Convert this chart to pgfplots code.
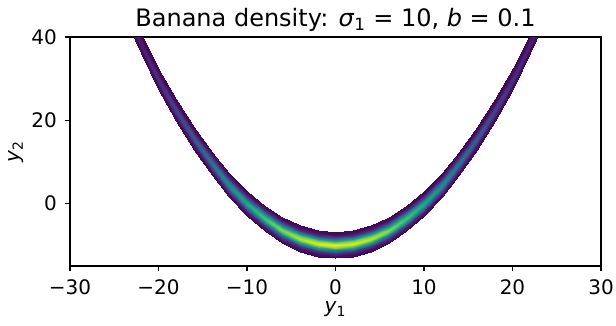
\documentclass[border=0pt]{standalone}
\usepackage{fontspec}
\setmainfont{DejaVu Sans}
\usepackage{pgfplots}
\pgfplotsset{compat=1.18}
\begin{document}
\fontsize{15}{18}\selectfont
\begin{tikzpicture}
\begin{axis}[name=ax, scale only axis, width=398.25pt, height=171.75pt,
 xmin=-30, xmax=30, ymin=-15, ymax=40,
 xtick={-30,-20,-10,0,10,20,30}, xticklabels={−30,−20,−10,0,10,20,30},
 ytick={0,20,40}, yticklabels={0,20,40},
 tick align=outside, tick pos=left, major tick length=3.75pt,
 major tick style={black, line width=0.9pt},
 axis line style={line width=0.9pt},
 xticklabel style={anchor=north, inner sep=0pt, yshift=-6.25pt},
 yticklabel style={anchor=east, inner sep=0pt, xshift=-6pt},
 colormap/viridis, point meta min=0, point meta max=1,
 title={Banana density: \textit{σ}\textsubscript{1} = 10, \textit{b} = 0.1},
 title style={font=\fontsize{18}{22}\selectfont, at={(axis description cs:0.5,1)}, anchor=base, yshift=2.25pt, inner sep=0pt},
 xlabel={\textit{y}\textsubscript{1}}, ylabel={\textit{y}\textsubscript{2}},
 xlabel style={at={(axis description cs:0.5,-0.203)}, anchor=base, inner sep=0pt},
 ylabel style={at={(axis description cs:-0.096,0.5)}, anchor=base, inner sep=0pt},
]
\addplot[surf, shader=interp, mesh/cols=11, mesh/rows=25, point meta=explicit] coordinates {
(-24,45.541)[.0067] (-24,45.953)[.0145] (-24,46.365)[.0262] (-24,46.776)[.0400] (-24,47.188)[.0516] (-24,47.6)[.056] (-24,48.012)[.0516] (-24,48.424)[.0400] (-24,48.835)[.0262] (-24,49.247)[.0145] (-24,49.659)[.0067]
(-22,36.128)[.0067] (-22,36.583)[.0171] (-22,37.037)[.0351] (-22,37.491)[.0589] (-22,37.946)[.080] (-22,38.4)[.089] (-22,38.854)[.080] (-22,39.309)[.0589] (-22,39.763)[.0351] (-22,40.217)[.0171] (-22,40.672)[.0067]
(-20,27.551)[.0067] (-20,28.040)[.0198] (-20,28.530)[.0460] (-20,29.020)[.0837] (-20,29.510)[.120] (-20,30)[.135] (-20,30.490)[.120] (-20,30.980)[.0837] (-20,31.470)[.0460] (-20,31.960)[.0198] (-20,32.449)[.0067]
(-18,19.8)[.0067] (-18,20.32)[.0227] (-18,20.84)[.0586] (-18,21.36)[.115] (-18,21.88)[.173] (-18,22.4)[.198] (-18,22.92)[.173] (-18,23.44)[.115] (-18,23.96)[.0586] (-18,24.48)[.0227] (-18,25.0)[.0067]
(-16,12.872)[.0067] (-16,13.418)[.0257] (-16,13.963)[.0729] (-16,14.509)[.153] (-16,15.054)[.240] (-16,15.6)[.278] (-16,16.146)[.240] (-16,16.691)[.153] (-16,17.237)[.0729] (-16,17.782)[.0257] (-16,18.328)[.0067]
(-14,6.764)[.0067] (-14,7.332)[.0287] (-14,7.899)[.0883] (-14,8.466)[.197] (-14,9.033)[.320] (-14,9.6)[.375] (-14,10.167)[.320] (-14,10.734)[.197] (-14,11.301)[.0883] (-14,11.868)[.0287] (-14,12.436)[.0067]
(-12,1.474)[.0067] (-12,2.059)[.0315] (-12,2.645)[.104] (-12,3.230)[.245] (-12,3.815)[.410] (-12,4.4)[.487] (-12,4.985)[.410] (-12,5.570)[.245] (-12,6.155)[.104] (-12,6.741)[.0315] (-12,7.326)[.0067]
(-10,-3)[.0067] (-10,-2.4)[.0340] (-10,-1.8)[.120] (-10,-1.2)[.295] (-10,-0.6)[.507] (-10,0)[.607] (-10,0.6)[.507] (-10,1.2)[.295] (-10,1.8)[.120] (-10,2.4)[.0340] (-10,3)[.0067]
(-8,-6.659)[.0067] (-8,-6.048)[.0363] (-8,-5.436)[.135] (-8,-4.824)[.343] (-8,-4.212)[.602] (-8,-3.6)[.726] (-8,-2.988)[.602] (-8,-2.376)[.343] (-8,-1.764)[.135] (-8,-1.152)[.0363] (-8,-0.541)[.0067]
(-6,-9.505)[.0067] (-6,-8.884)[.0382] (-6,-8.263)[.147] (-6,-7.642)[.386] (-6,-7.021)[.689] (-6,-6.4)[.835] (-6,-5.779)[.689] (-6,-5.158)[.386] (-6,-4.537)[.147] (-6,-3.916)[.0382] (-6,-3.295)[.0067]
(-4,-11.537)[.0067] (-4,-10.910)[.0396] (-4,-10.282)[.157] (-4,-9.655)[.420] (-4,-9.027)[.758] (-4,-8.4)[.923] (-4,-7.773)[.758] (-4,-7.145)[.420] (-4,-6.518)[.157] (-4,-5.890)[.0396] (-4,-5.263)[.0067]
(-2,-12.756)[.0067] (-2,-12.125)[.0405] (-2,-11.494)[.163] (-2,-10.862)[.442] (-2,-10.231)[.803] (-2,-9.6)[.980] (-2,-8.969)[.803] (-2,-8.338)[.442] (-2,-7.706)[.163] (-2,-7.075)[.0405] (-2,-6.444)[.0067]
(0,-13.162)[.0067] (0,-12.530)[.0408] (0,-11.897)[.165] (0,-11.265)[.449] (0,-10.632)[.819] (0,-10)[1] (0,-9.368)[.819] (0,-8.735)[.449] (0,-8.103)[.165] (0,-7.470)[.0408] (0,-6.838)[.0067]
(2,-12.756)[.0067] (2,-12.125)[.0405] (2,-11.494)[.163] (2,-10.862)[.442] (2,-10.231)[.803] (2,-9.6)[.980] (2,-8.969)[.803] (2,-8.338)[.442] (2,-7.706)[.163] (2,-7.075)[.0405] (2,-6.444)[.0067]
(4,-11.537)[.0067] (4,-10.910)[.0396] (4,-10.282)[.157] (4,-9.655)[.420] (4,-9.027)[.758] (4,-8.4)[.923] (4,-7.773)[.758] (4,-7.145)[.420] (4,-6.518)[.157] (4,-5.890)[.0396] (4,-5.263)[.0067]
(6,-9.505)[.0067] (6,-8.884)[.0382] (6,-8.263)[.147] (6,-7.642)[.386] (6,-7.021)[.689] (6,-6.4)[.835] (6,-5.779)[.689] (6,-5.158)[.386] (6,-4.537)[.147] (6,-3.916)[.0382] (6,-3.295)[.0067]
(8,-6.659)[.0067] (8,-6.048)[.0363] (8,-5.436)[.135] (8,-4.824)[.343] (8,-4.212)[.602] (8,-3.6)[.726] (8,-2.988)[.602] (8,-2.376)[.343] (8,-1.764)[.135] (8,-1.152)[.0363] (8,-0.541)[.0067]
(10,-3)[.0067] (10,-2.4)[.0340] (10,-1.8)[.120] (10,-1.2)[.295] (10,-0.6)[.507] (10,0)[.607] (10,0.6)[.507] (10,1.2)[.295] (10,1.8)[.120] (10,2.4)[.0340] (10,3)[.0067]
(12,1.474)[.0067] (12,2.059)[.0315] (12,2.645)[.104] (12,3.230)[.245] (12,3.815)[.410] (12,4.4)[.487] (12,4.985)[.410] (12,5.570)[.245] (12,6.155)[.104] (12,6.741)[.0315] (12,7.326)[.0067]
(14,6.764)[.0067] (14,7.332)[.0287] (14,7.899)[.0883] (14,8.466)[.197] (14,9.033)[.320] (14,9.6)[.375] (14,10.167)[.320] (14,10.734)[.197] (14,11.301)[.0883] (14,11.868)[.0287] (14,12.436)[.0067]
(16,12.872)[.0067] (16,13.418)[.0257] (16,13.963)[.0729] (16,14.509)[.153] (16,15.054)[.240] (16,15.6)[.278] (16,16.146)[.240] (16,16.691)[.153] (16,17.237)[.0729] (16,17.782)[.0257] (16,18.328)[.0067]
(18,19.8)[.0067] (18,20.32)[.0227] (18,20.84)[.0586] (18,21.36)[.115] (18,21.88)[.173] (18,22.4)[.198] (18,22.92)[.173] (18,23.44)[.115] (18,23.96)[.0586] (18,24.48)[.0227] (18,25.0)[.0067]
(20,27.551)[.0067] (20,28.040)[.0198] (20,28.530)[.0460] (20,29.020)[.0837] (20,29.510)[.120] (20,30)[.135] (20,30.490)[.120] (20,30.980)[.0837] (20,31.470)[.0460] (20,31.960)[.0198] (20,32.449)[.0067]
(22,36.128)[.0067] (22,36.583)[.0171] (22,37.037)[.0351] (22,37.491)[.0589] (22,37.946)[.080] (22,38.4)[.089] (22,38.854)[.080] (22,39.309)[.0589] (22,39.763)[.0351] (22,40.217)[.0171] (22,40.672)[.0067]
(24,45.541)[.0067] (24,45.953)[.0145] (24,46.365)[.0262] (24,46.776)[.0400] (24,47.188)[.0516] (24,47.6)[.056] (24,48.012)[.0516] (24,48.424)[.0400] (24,48.835)[.0262] (24,49.247)[.0145] (24,49.659)[.0067]
};
\end{axis}
\pgfresetboundingbox
\path ([shift={(-52.5pt,-44.25pt)}]ax.south west) rectangle ([shift={(11.25pt,27.75pt)}]ax.north east);
\end{tikzpicture}
\end{document}
